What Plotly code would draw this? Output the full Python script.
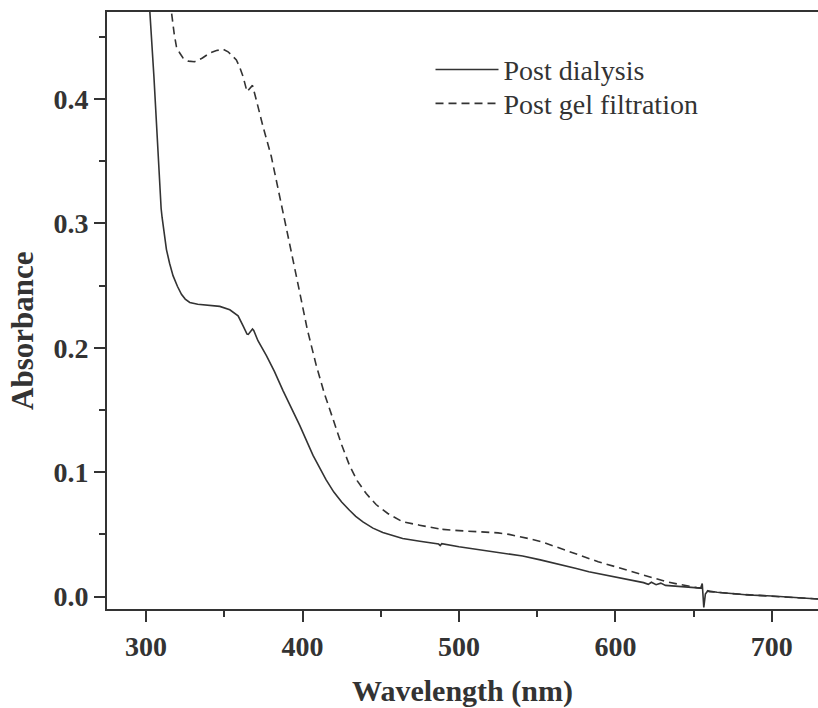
import plotly.graph_objects as go

# Post dialysis (solid)
wl_dialysis = [300.5, 302.4, 305, 307, 308.8, 309.6, 310.2, 311.5, 313, 315, 317.2, 320, 322.6, 325,
               327.9, 333, 338.6, 347.1, 353.5, 356, 358.8, 362, 363.5, 364.5, 365.3, 366.2, 367.2,
               368, 368.8, 369.4, 371.5, 376.9, 382, 387.5, 393, 398.2, 406.7, 411, 415, 420, 425,
               430, 434, 438.6, 445, 451.3, 458, 464, 475, 487, 488, 489, 500, 515, 530, 540.7, 552,
               564, 575, 583, 600, 612, 618, 621, 623, 626, 629, 632, 640, 650, 654.5, 655.5, 656.5,
               657.5, 659, 665, 675, 685, 700, 715, 730]
abs_dialysis = [0.50, 0.47, 0.418, 0.368, 0.322, 0.312, 0.305, 0.292, 0.279, 0.268, 0.258, 0.2495,
                0.243, 0.2392, 0.2365, 0.235, 0.2343, 0.2333, 0.2306, 0.2285, 0.2257, 0.2177, 0.2135,
                0.211, 0.2108, 0.2124, 0.2145, 0.2151, 0.2140, 0.2124, 0.2057, 0.1937, 0.181, 0.1656,
                0.151, 0.1376, 0.1135, 0.1028, 0.094, 0.084, 0.076, 0.0694, 0.0645, 0.060, 0.055,
                0.0515, 0.049, 0.0467, 0.0445, 0.0422, 0.041, 0.0425, 0.040, 0.0374, 0.0348, 0.0326,
                0.0295, 0.0261, 0.0225, 0.020, 0.016, 0.0128, 0.0112, 0.0098, 0.0115, 0.0095, 0.0108,
                0.009, 0.0082, 0.0072, 0.0068, 0.0105, -0.0088, 0.002, 0.0045, 0.0035, 0.0025, 0.0013,
                0.0005, -0.0008, -0.002]

# Post gel filtration (dashed)
wl_gel = [315, 316.2, 318, 319.4, 321.5, 323.6, 327, 331, 336, 340.7, 345, 349.2, 352.4, 355, 357.7,
          360, 362, 364.5, 366.5, 368, 370.5, 374.7, 380, 385.4, 389.2, 393, 398.2, 403, 408.8, 414,
          419.4, 425, 430, 435, 440.7, 447, 454.5, 464, 474.8, 487, 488, 489.7, 500, 515.2, 525,
          532, 538, 545, 553.5, 562, 570.6, 580, 589, 600, 611, 622, 632.3, 640, 647.2, 652, 655,
          660, 680, 700, 730]
abs_gel = [0.50, 0.47, 0.452, 0.442, 0.437, 0.433, 0.4305, 0.430, 0.433, 0.437, 0.439, 0.440, 0.438,
           0.435, 0.4315, 0.425, 0.418, 0.406, 0.409, 0.411, 0.399, 0.378, 0.354, 0.3206, 0.299,
           0.276, 0.2445, 0.215, 0.1857, 0.163, 0.143, 0.122, 0.1055, 0.093, 0.0828, 0.074, 0.0668,
           0.0601, 0.0574, 0.0545, 0.053, 0.054, 0.053, 0.0521, 0.0512, 0.050, 0.0485, 0.0465,
           0.0438, 0.040, 0.036, 0.032, 0.028, 0.024, 0.020, 0.016, 0.012, 0.010, 0.008, 0.0072,
           0.0068, 0.004, 0.0018, 0.0005, -0.002]

x_ticks = [300, 400, 500, 600, 700]
y_ticks = [0.0, 0.1, 0.2, 0.3, 0.4]

INK = "#333333"
SERIF = "Liberation Serif"

fig = go.Figure()
fig.add_trace(go.Scatter(x=wl_dialysis, y=abs_dialysis, mode="lines", name="Post dialysis",
                         line=dict(color=INK, width=1.6), legend="legend"))
fig.add_trace(go.Scatter(x=wl_gel, y=abs_gel, mode="lines", name="Post gel filtration",
                         line=dict(color=INK, width=1.6, dash="8px,5px"), legend="legend2"))

axis_common = dict(
    showgrid=False, zeroline=False, showline=True, linecolor=INK, linewidth=2,
    ticks="outside", ticklen=11, tickwidth=2, tickcolor=INK,
    tickfont=dict(family=SERIF, size=28, color=INK, weight="bold"),
)

legend_common = dict(xanchor="left", yanchor="middle", bgcolor="rgba(0,0,0,0)",
                     font=dict(family=SERIF, size=28, color=INK), itemwidth=63)

fig.update_layout(
    width=818, height=708,
    margin=dict(l=107, r=0, t=12, b=97),
    plot_bgcolor="white", paper_bgcolor="white",
    xaxis=dict(range=[275, 729.5], tickvals=x_ticks, ticktext=[str(v) for v in x_ticks],
               mirror=True,
               minor=dict(dtick=50, tick0=0, ticks="outside", ticklen=6, tickwidth=2, tickcolor=INK),
               title=dict(text="Wavelength (nm)", font=dict(family=SERIF, size=30, color=INK, weight="bold"),
                          standoff=25),
               **axis_common),
    yaxis=dict(range=[-0.01, 0.47], tickvals=y_ticks, ticktext=["%.1f" % v for v in y_ticks],
               mirror=False,
               minor=dict(dtick=0.05, tick0=0, ticks="outside", ticklen=6, tickwidth=2, tickcolor=INK),
               **axis_common),
    legend=dict(x=0.455, y=(611 - 70) / 599, **legend_common),
    legend2=dict(x=0.455, y=(611 - 104) / 599, **legend_common),
    showlegend=True,
    annotations=[dict(text="<b>Absorbance</b>", textangle=-90, xref="paper", yref="paper",
                      x=(23 - 107) / 711, y=(611 - 332) / 599, xanchor="center", yanchor="middle",
                      showarrow=False, font=dict(family=SERIF, size=31, color=INK))],
)

fig.write_html("out.html")
